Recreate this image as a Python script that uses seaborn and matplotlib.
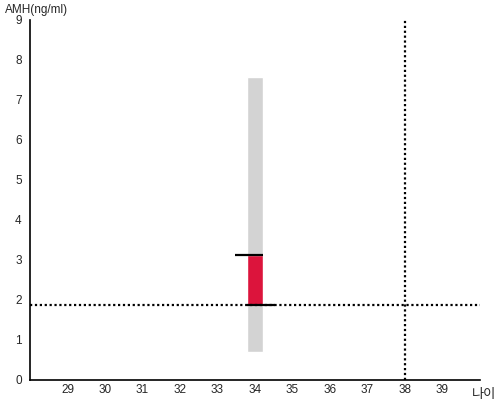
import matplotlib
matplotlib.use("Agg")
import matplotlib.pyplot as plt
import seaborn as sns

# data
age = [34]
amh_low = [0.7]
amh_high = [7.58]
red_low = [1.88]
red_high = [3.13]
ref_amh = 1.88
ref_age = 38
x_ticks = [29, 30, 31, 32, 33, 34, 35, 36, 37, 38, 39]
y_ticks = [0, 1, 2, 3, 4, 5, 6, 7, 8, 9]

sns.set_style("white")
plt.rcParams['font.family'] = ['Liberation Sans', 'Noto Sans CJK KR', 'DejaVu Sans']

fig = plt.figure(figsize=(5, 4), dpi=100)
ax = fig.add_axes([0.06, 0.05, 0.90, 0.90])

w = 0.43
ax.bar(age, [h - l for h, l in zip(amh_high, amh_low)], bottom=amh_low,
       width=w, color="#d3d3d3", zorder=1)
ax.bar(age, [h - l for h, l in zip(red_high, red_low)], bottom=red_low,
       width=w, color="#dc143c", zorder=2)
for a, hi, lo in zip(age, red_high, red_low):
    ax.hlines(hi, a - 0.53, a + w / 2, color="black", lw=1.6, zorder=3)
    ax.hlines(lo, a - w / 2, a + 0.53, color="black", lw=1.6, zorder=3)

ax.axhline(ref_amh, color="black", ls=(0, (1, 1.2)), lw=1.6, zorder=4)
ax.axvline(ref_age, color="black", ls=(0, (1, 1.2)), lw=1.6, zorder=4)

ax.set_xlim(28, 40)
ax.set_ylim(0, 9)
ax.set_xticks(x_ticks)
ax.set_yticks(y_ticks)
ax.tick_params(axis="x", length=0, labelsize=8.5, pad=3)
ax.tick_params(axis="y", length=0, labelsize=8.5, pad=6)
sns.despine(ax=ax)
for s in ["left", "bottom"]:
    ax.spines[s].set_color("black")
    ax.spines[s].set_linewidth(1.2)

fig.text(0.01, 0.975, "AMH(ng/ml)", fontsize=8.5, va="center", ha="left")
fig.text(0.992, 0.013, "나이", fontsize=9.5, va="center", ha="right")

fig.savefig("out.png", dpi=100)
